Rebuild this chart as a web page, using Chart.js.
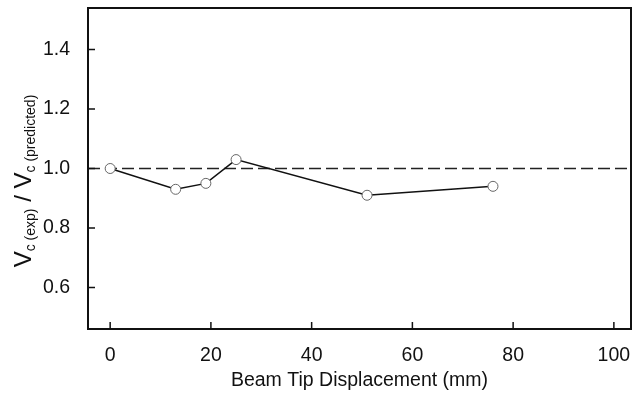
<!DOCTYPE html>
<html><head><meta charset="utf-8">
<script src="https://cdn.jsdelivr.net/npm/chart.js@4"></script>
<style>html,body{margin:0;padding:0;background:#fff}canvas{display:block}</style>
</head><body>
<canvas id="c" width="632" height="393"></canvas>
<script>
// ---- data ----
const displacement = [0, 13, 19, 25, 51, 76];
const ratio = [1.00, 0.93, 0.95, 1.03, 0.91, 0.94];
const xTicks = [0, 20, 40, 60, 80, 100];
const yTicks = [0.6, 0.8, 1.0, 1.2, 1.4];
const referenceRatio = 1.0;
const xTitle = 'Beam Tip Displacement (mm)';
const yTitleParts = [['V', false], ['c (exp)', true], [' / ', false], ['V', false], ['c (predicted)', true]];

const X_MIN = -4.4, X_MAX = 103.4, Y_MIN = 0.46, Y_MAX = 1.54;
const FONT = '"Liberation Sans", Arial, sans-serif';

function noPad(s) {
  s.paddingLeft = 0; s.paddingRight = 0; s.paddingTop = 0; s.paddingBottom = 0;
}

const decor = {
  id: 'decor',
  afterDraw(chart) {
    const ctx = chart.ctx, a = chart.chartArea;
    const xs = chart.scales.x, ys = chart.scales.y;
    ctx.save();
    ctx.strokeStyle = '#111';
    ctx.lineWidth = 2;
    ctx.strokeRect(a.left, a.top, a.right - a.left, a.bottom - a.top);
    ctx.lineWidth = 1.5;
    ctx.beginPath();
    xTicks.forEach(v => { const p = xs.getPixelForValue(v); ctx.moveTo(p, a.bottom); ctx.lineTo(p, a.bottom - 7); });
    yTicks.forEach(v => { const p = ys.getPixelForValue(v); ctx.moveTo(a.left, p); ctx.lineTo(a.left + 7, p); });
    ctx.stroke();
    // x title
    ctx.fillStyle = '#111';
    ctx.font = '19.5px ' + FONT;
    ctx.textAlign = 'center';
    ctx.textBaseline = 'middle';
    ctx.fillText(xTitle, (a.left + a.right) / 2, 381);
    // y title with subscripts
    const big = '24px ' + FONT, small = '14px ' + FONT;
    let total = 0;
    yTitleParts.forEach(([t, sub]) => { ctx.font = sub ? small : big; total += ctx.measureText(t).width; });
    ctx.translate(31, 181);
    ctx.rotate(-Math.PI / 2);
    ctx.textAlign = 'left';
    ctx.textBaseline = 'alphabetic';
    let x = -total / 2;
    yTitleParts.forEach(([t, sub]) => {
      ctx.font = sub ? small : big;
      ctx.fillText(t, x, sub ? 4 : 0);
      x += ctx.measureText(t).width;
    });
    ctx.restore();
  }
};

new Chart(document.getElementById('c'), {
  type: 'scatter',
  data: {
    datasets: [
      {
        data: [{x: X_MIN, y: referenceRatio}, {x: X_MAX, y: referenceRatio}],
        showLine: true, borderColor: '#222', borderWidth: 1.5, borderDash: [12, 5],
        pointRadius: 0, order: 2
      },
      {
        data: displacement.map((d, i) => ({x: d, y: ratio[i]})),
        showLine: true, borderColor: '#111', borderWidth: 1.5,
        pointRadius: 5, pointBorderColor: '#666', pointBorderWidth: 1,
        pointBackgroundColor: '#fff', order: 1
      }
    ]
  },
  options: {
    responsive: false, animation: false, devicePixelRatio: 1,
    layout: {autoPadding: false, padding: {top: 8, right: 1, left: 0, bottom: 0}},
    plugins: {legend: {display: false}, tooltip: {enabled: false}},
    scales: {
      x: {
        type: 'linear', min: X_MIN, max: X_MAX,
        afterBuildTicks: s => { s.ticks = xTicks.map(v => ({value: v})); },
        afterFit: s => { s.height = 64; noPad(s); },
        grid: {display: false, drawTicks: false}, border: {display: false},
        ticks: {padding: 15, color: '#111', font: {family: FONT, size: 19.5}, maxRotation: 0, autoSkip: false}
      },
      y: {
        type: 'linear', min: Y_MIN, max: Y_MAX,
        afterBuildTicks: s => { s.ticks = yTicks.map(v => ({value: v})); },
        afterFit: s => { s.width = 88; noPad(s); },
        grid: {display: false, drawTicks: false}, border: {display: false},
        ticks: {padding: 18, color: '#111', font: {family: FONT, size: 19.5}, callback: v => v.toFixed(1)}
      }
    }
  },
  plugins: [decor]
});
</script>
</body></html>
